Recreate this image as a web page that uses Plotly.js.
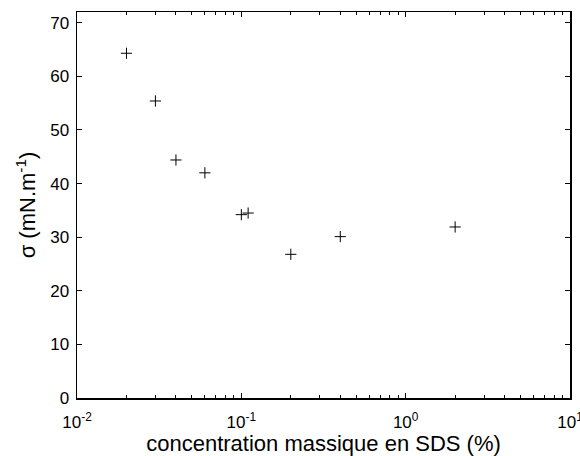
<!DOCTYPE html>
<html><head><meta charset="utf-8">
<script src="https://cdn.plot.ly/plotly-3.0.1.min.js"></script>
<style>body{margin:0;padding:0;background:#fff}#plot{width:580px;height:456px}</style>
</head><body><div id="plot"></div>
<script>
var concentration = [0.02, 0.03, 0.04, 0.06, 0.1, 0.11, 0.2, 0.4, 2.0];
var sigma = [64.3, 55.4, 44.4, 42.0, 34.2, 34.5, 26.8, 30.1, 31.9];
var xTickVals = [0.01, 0.1, 1, 10];
var xTickText = ['10<sup>-2</sup>', '10<sup>-1</sup>', '10<sup>0</sup>', '10<sup>1</sup>'];
var yTickVals = [0, 10, 20, 30, 40, 50, 60, 70];

var minorVals = [];
[0.01, 0.1, 1].forEach(function(d){ for (var k=2;k<=9;k++) minorVals.push(d*k); });

var tickFont = {family: 'Liberation Sans, Arial, sans-serif', size: 17, color: '#000'};
var titleFont = {family: 'Liberation Sans, Arial, sans-serif', size: 22, color: '#000'};
var trace = {
  x: concentration, y: sigma, type: 'scatter', mode: 'markers',
  marker: {symbol: 'cross-thin-open', size: 8, color: '#000', line: {color: '#000', width: 1}},
  hoverinfo: 'none'
};
var layout = {
  width: 580, height: 456,
  margin: {l: 77, r: 10, t: 12, b: 58},
  paper_bgcolor: '#fff', plot_bgcolor: '#fff',
  showlegend: false,
  font: tickFont,
  xaxis: {
    type: 'log', range: [-2, 1],
    tickmode: 'array', tickvals: xTickVals, ticktext: xTickText,
    ticks: 'inside', ticklen: 5, tickwidth: 1, tickcolor: '#000',
    minor: {tickmode: 'array', tickvals: minorVals, ticks: 'inside', ticklen: 3, tickwidth: 1, tickcolor: '#000', showgrid: false},
    showline: true, linecolor: '#000', linewidth: 1.5, mirror: 'allticks',
    showgrid: false, zeroline: false,
    ticklabeloverflow: 'allow',
    ticklabelstandoff: 8,
    tickfont: tickFont,
    title: {text: 'concentration massique en SDS (%)', font: titleFont, standoff: 0}
  },
  yaxis: {
    range: [0, 72],
    tickmode: 'array', tickvals: yTickVals,
    ticks: 'inside', ticklen: 5, tickwidth: 1, tickcolor: '#000',
    showline: true, linecolor: '#000', linewidth: 1.5, mirror: 'allticks',
    showgrid: false, zeroline: false,
    ticklabelstandoff: 3,
    tickfont: tickFont,
    title: {text: 'σ (mN.m<sup>-1</sup>)', font: titleFont, standoff: 8}
  }
};
Plotly.newPlot('plot', [trace], layout, {staticPlot: true, displayModeBar: false});
</script></body></html>
